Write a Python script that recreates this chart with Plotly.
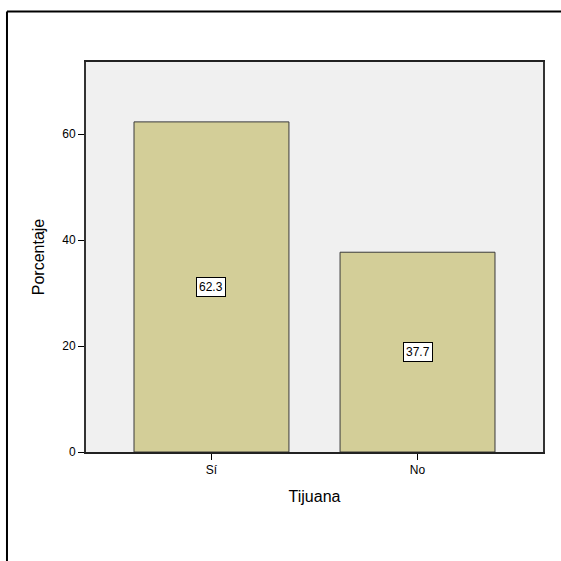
import plotly.graph_objects as go

categories = ["Sí", "No"]
values = [62.3, 37.7]
yticks = [0, 20, 40, 60]

xpos = list(range(len(categories)))

fig = go.Figure()
fig.add_trace(go.Bar(
    x=xpos, y=values, width=0.752,
    marker=dict(color="#D3CE98", line=dict(color="#3a3a3a", width=1)),
    hoverinfo="skip",
))

for xp, v in zip(xpos, values):
    fig.add_annotation(
        x=xp, y=v / 2, text=f"{v:.1f}", showarrow=False,
        font=dict(family="Liberation Sans, Arial", size=12, color="black"),
        bgcolor="white", bordercolor="black", borderwidth=1, borderpad=2,
    )

# outer frame lines (top and left)
fig.add_shape(type="line", xref="paper", yref="paper",
              x0=-0.1729, x1=1.0394, y0=1.1295, y1=1.1295,
              line=dict(color="black", width=2))
fig.add_shape(type="line", xref="paper", yref="paper",
              x0=-0.1729, x1=-0.1729, y0=1.1295, y1=-0.2795,
              line=dict(color="black", width=2))

fig.update_layout(
    width=561, height=561,
    margin=dict(l=86, r=18, t=62, b=109),
    paper_bgcolor="white",
    plot_bgcolor="#F0F0F0",
    showlegend=False,
    font=dict(family="Liberation Sans, Arial", color="black"),
    xaxis=dict(
        range=[-0.609, 1.609], tickvals=xpos, ticktext=categories,
        ticks="outside", ticklen=6, tickcolor="black",
        showgrid=False, zeroline=False,
        showline=True, linecolor="#222222", linewidth=2, mirror=True,
        tickfont=dict(size=12),
        title=dict(text="Tijuana", font=dict(size=16), standoff=14),
    ),
    yaxis=dict(
        range=[0, 73.6], tickvals=yticks,
        ticks="outside", ticklen=6, tickcolor="black",
        showgrid=False, zeroline=False,
        showline=True, linecolor="#333333", linewidth=2, mirror=True,
        tickfont=dict(size=12),
        title=dict(text="Porcentaje", font=dict(size=16), standoff=14),
    ),
)

fig.write_html(
    "out.html",
    config={"displayModeBar": False, "staticPlot": True},
    post_script="document.body.style.margin='0';document.body.style.overflow='hidden';",
)
